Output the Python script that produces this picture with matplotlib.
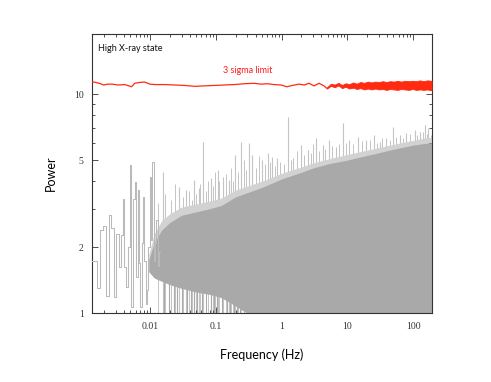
import matplotlib
matplotlib.use("Agg")
import matplotlib.pyplot as plt
from matplotlib.ticker import FixedLocator, NullFormatter, LogLocator

# low-frequency power spectrum steps (bin start frequency, power)
low_freq = [0.00131, 0.001547, 0.001694, 0.001909, 0.00212, 0.002323, 0.002553,
            0.002767, 0.003041, 0.003296, 0.003585, 0.003791, 0.004024, 0.004316,
            0.004581, 0.004845, 0.005143, 0.005458, 0.005772, 0.006126, 0.006412,
            0.006735, 0.007047, 0.007376, 0.007745, 0.008106, 0.008483, 0.00891,
            0.009326, 0.009761, 0.01025, 0.01073, 0.01123, 0.0118, 0.01234,
            0.01291, 0.01356, 0.0142]
low_power = [1.73, 1.31, 2.41, 2.5, 1.2, 2.8, 2.45, 1.19, 2.31, 1.63, 2.28, 3.31,
             1.63, 1.32, 2.01, 4.74, 1.07, 3.31, 3.98, 1.46, 3.64, 1.7, 1.07, 2.1,
             3.4, 1.74, 1.1, 1.28, 2.0, 4.2, 2.16, 4.9, 1.74, 2.1, 2.66, 1.65, 1.9,
             1.9]

# dense part of the spectrum: envelope of the solid mass and of the lighter fringe
mass_freq = [0.0095, 0.0115, 0.015, 0.02, 0.03, 0.05, 0.08, 0.12, 0.2, 0.3, 0.5, 1,
             2, 3, 5, 10, 20, 30, 50, 100, 150, 191]
mass_top = [1.75, 2.1, 2.4, 2.6, 2.8, 2.9, 3.0, 3.1, 3.4, 3.55, 3.75, 4.1, 4.4, 4.6,
            4.8, 5.0, 5.25, 5.4, 5.6, 5.85, 5.95, 6.0]
mass_bottom = [1.55, 1.45, 1.4, 1.35, 1.3, 1.25, 1.22, 1.18, 1.08, 1.0, 1.0, 1.0,
               1.0, 1.0, 1.0, 1.0, 1.0, 1.0, 1.0, 1.0, 1.0, 1.0]
fringe_top = [1.85, 2.3, 2.65, 2.85, 3.05, 3.15, 3.25, 3.35, 3.65, 3.8, 4.0, 4.35,
              4.65, 4.85, 5.05, 5.3, 5.55, 5.7, 5.9, 6.15, 6.3, 6.35]

# isolated tall peaks and downward dips
spike_freq = [0.0155, 0.0278, 0.0351, 0.0469, 0.0545, 0.0626, 0.084, 0.1057,
              0.126, 0.159, 0.196, 0.239, 0.32, 0.359, 0.508, 0.627, 0.721, 0.858,
              1.26, 1.49, 1.95, 2.55, 3.32, 4.19, 5.3, 6.71, 8.47, 10.7, 14.4, 19.3,
              25, 30.9, 39.1, 49.4, 62.5, 79.2, 106, 127, 151, 170]
spike_top = [4.4, 3.77, 3.65, 4.05, 3.71, 6.06, 4.12, 4.5,
             4.2, 4.05, 5.27, 6.06, 5.96, 5.27, 5.0, 5.37, 5.18, 5.09, 7.88, 5.09,
             5.85, 5.56, 6.28, 5.85, 6.17, 5.75, 7.35, 6.17, 6.38, 6.17, 6.5, 6.06,
             6.28, 7.1, 6.5, 6.62, 6.85, 6.73, 7.22, 6.98]
minor_spike_freq = [0.013, 0.017, 0.021, 0.024, 0.032, 0.039, 0.043, 0.05, 0.058,
                    0.07, 0.076, 0.09, 0.097, 0.113, 0.14, 0.17, 0.18, 0.22, 0.27,
                    0.29, 0.41, 0.45, 0.56, 0.67, 0.79, 0.93, 1.1, 1.37, 1.7, 2.2,
                    2.8, 3.0, 3.7, 4.6, 5.9, 7.5, 9.4, 12, 16.5, 22, 28, 34, 44, 55,
                    70, 90, 115, 140, 160, 185]
minor_spike_top = [3.2, 3.5, 3.3, 3.9, 3.4, 3.6, 3.3, 3.5, 3.9, 3.6, 4.0, 3.8, 4.4,
                   4.0, 4.3, 4.6, 4.0, 4.4, 5.0, 4.5, 4.6, 5.2, 4.8, 4.9, 4.7, 4.9,
                   4.8, 5.0, 5.5, 5.3, 5.4, 5.9, 5.5, 5.6, 5.8, 5.9, 6.0, 5.9, 6.1,
                   6.2, 6.0, 6.3, 6.2, 6.4, 6.3, 6.6, 6.5, 6.7, 6.6, 6.5]
dip_freq = [0.0163, 0.0194, 0.0231, 0.0259, 0.0309, 0.0367, 0.0412, 0.0464, 0.0521,
            0.062, 0.0695, 0.0828, 0.0933, 0.1047, 0.1245, 0.1483, 0.1664, 0.1875,
            0.2104, 0.236, 0.2656]

# 3 sigma detection limit
sig_freq = [0.0013, 0.00149, 0.00171, 0.00196, 0.00225, 0.00268, 0.0032, 0.0041,
            0.0052, 0.0058, 0.0069, 0.0082, 0.0099, 0.0117, 0.0166, 0.0235, 0.0334,
            0.0474, 0.0667, 0.094, 0.133, 0.19, 0.27, 0.38, 0.49, 0.6, 0.76, 0.98,
            1.2, 1.45, 1.84, 2.2, 2.6, 3.1, 3.7, 4.4, 4.9]
sig_power = [11.38, 11.3, 11.18, 11.0, 11.1, 11.1, 11.0, 11.05, 10.8, 11.2, 11.3,
             11.35, 11.1, 11.05, 11.05, 11.0, 10.95, 10.85, 10.9, 10.95, 11.0, 11.05,
             11.15, 11.2, 11.1, 11.15, 11.05, 11.0, 10.8, 10.95, 11.1, 11.0, 11.2,
             10.9, 11.2, 10.9, 10.6]
# noisy high-frequency part of the limit (lower / upper edge of the red band)
band_freq = [4.9, 5.6, 6.4, 7.3, 8.3, 9.4, 10.7, 12.2, 13.9, 15.8, 18, 20.5, 23.4,
             26.6, 30.3, 34.5, 39.3, 44.8, 51, 58, 66, 75, 86, 98, 111, 127, 144,
             164, 191]
band_lo = [10.6, 10.9, 10.75, 10.95, 10.65, 10.8, 10.6, 10.7, 10.55, 10.65, 10.5,
           10.6, 10.5, 10.6, 10.5, 10.55, 10.45, 10.55, 10.5, 10.45, 10.55, 10.5,
           10.45, 10.55, 10.45, 10.5, 10.45, 10.5, 10.4]
band_hi = [10.75, 11.15, 11.05, 11.25, 11.0, 11.2, 11.1, 11.3, 11.15, 11.35, 11.25,
           11.4, 11.3, 11.4, 11.35, 11.45, 11.35, 11.45, 11.4, 11.5, 11.4, 11.5,
           11.45, 11.5, 11.45, 11.55, 11.45, 11.55, 11.5]

GRAY = "#a9a9a9"
LIGHT = "#d2d2d2"
RED = "#ff2a10"

fig = plt.figure(figsize=(4.91, 3.82), dpi=100)
ax = fig.add_axes([0.1874, 0.18, 0.6916, 0.731])

ax.vlines(spike_freq, 1, spike_top, color="#c4c4c4", lw=0.8, zorder=1)
ax.vlines(minor_spike_freq, 1, minor_spike_top, color="#c4c4c4", lw=0.7, zorder=1)
ax.fill_between(mass_freq, mass_bottom, fringe_top, color=LIGHT, lw=0, zorder=1)
ax.fill_between(mass_freq, mass_bottom, mass_top, color=GRAY, lw=0, zorder=2)
ax.vlines(dip_freq, 1, 1.5, color=GRAY, lw=0.8, zorder=2)
ax.step(low_freq, low_power, where="post", color="#bababa", lw=0.75, zorder=3)

ax.fill_between(band_freq, band_lo, band_hi, color=RED, lw=0.6, edgecolor=RED,
                zorder=4)
ax.plot(sig_freq, sig_power, color=RED, lw=0.9, zorder=5)

ax.set_xscale("log")
ax.set_yscale("log")
ax.set_xlim(0.0013, 191)
ax.set_ylim(1, 18.8)

ax.xaxis.set_major_locator(FixedLocator([0.01, 0.1, 1, 10, 100]))
ax.set_xticklabels(["0.01", "0.1", "1", "10", "100"])
ax.xaxis.set_minor_locator(LogLocator(base=10, subs=range(2, 10)))
ax.xaxis.set_minor_formatter(NullFormatter())
ax.yaxis.set_major_locator(FixedLocator([1, 2, 5, 10]))
ax.set_yticklabels(["1", "2", "5", "10"])
ax.yaxis.set_minor_locator(FixedLocator([3, 4, 6, 7, 8, 9]))
ax.yaxis.set_minor_formatter(NullFormatter())

ax.tick_params(which="both", direction="in", top=True, right=True,
               width=0.6, colors="#333333")
ax.tick_params(which="major", length=4, labelsize=7, pad=6)
ax.tick_params(which="minor", length=2.5)
for lab in ax.get_xticklabels() + ax.get_yticklabels():
    lab.set_fontfamily("Liberation Serif")
for sp in ax.spines.values():
    sp.set_linewidth(0.8)
    sp.set_color("#333333")

ax.set_xlabel("Frequency (Hz)", fontfamily="Lato", fontsize=9, labelpad=13)
ax.set_ylabel("Power", fontfamily="Lato", fontsize=9, labelpad=12)

ax.text(0.017, 0.965, "High X-ray state", transform=ax.transAxes, ha="left",
        va="top", fontfamily="Lato", fontsize=6.5, color="#111111")
ax.text(0.385, 0.885, "3 sigma limit", transform=ax.transAxes, ha="left",
        va="top", fontfamily="Lato", fontsize=6.5, color="#ff1a1a")

fig.savefig("out.png", dpi=100)
